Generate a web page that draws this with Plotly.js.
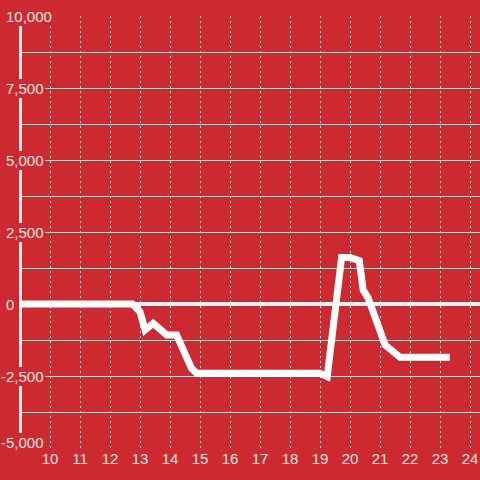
<!DOCTYPE html>
<html>
<head>
<meta charset="utf-8">
<script src="https://cdn.plot.ly/plotly-3.0.1.min.js"></script>
<style>html,body{margin:0;padding:0;background:#cc2a30;}#chart{width:480px;height:480px;}</style>
</head>
<body>
<div id="chart"></div>
<script>
// Data
const hours = [9, 12.75, 13.0, 13.17, 13.44, 13.89, 14.22, 14.72, 14.89, 19.0, 19.24, 19.72, 20.0, 20.31, 20.44, 20.61, 21.17, 21.67, 23.33];
const values = [0, 0, -270, -900, -670, -1076, -1076, -2234, -2407, -2407, -2523, 1615, 1615, 1503, 486, 197, -1424, -1852, -1852];
const yTickValues = [10000, 7500, 5000, 2500, 0, -2500, -5000];
const yTickLabels = ['10,000', '7,500', '5,000', '2,500', '0', '-2,500', '-5,000'];
const xTickValues = [10, 11, 12, 13, 14, 15, 16, 17, 18, 19, 20, 21, 22, 23, 24];

const BG = '#cc2a30';
const LABEL = '#f4e4e4';
const FONT = 'Liberation Sans, Arial, sans-serif';

const annotations = yTickValues.map((v, i) => ({
  xref: 'paper', yref: 'y',
  x: -20 / 460, y: v,
  xanchor: 'left', yanchor: 'middle',
  xshift: v < 0 ? 0 : 4.5,
  yshift: v === -5000 ? 6 : 0,
  text: yTickLabels[i],
  showarrow: false,
  bgcolor: BG,
  borderpad: 1,
  borderwidth: 0,
  font: {family: FONT, size: 15, color: LABEL}
}));

const trace = {
  x: hours, y: values,
  type: 'scatter', mode: 'lines',
  line: {color: '#ffffff', width: 7},
  hoverinfo: 'skip'
};

const layout = {
  width: 480, height: 480,
  paper_bgcolor: BG, plot_bgcolor: BG,
  margin: {l: 20, r: 0, t: 16, b: 32},
  showlegend: false,
  font: {family: FONT, size: 15, color: LABEL},
  xaxis: {
    range: [9, 24.3333],
    tickmode: 'array', tickvals: xTickValues,
    ticks: '', showline: false,
    showgrid: true, gridcolor: '#dddddd', gridwidth: 1, griddash: '2px,3px',
    zeroline: false,
    tickfont: {family: FONT, size: 15, color: LABEL},
    fixedrange: true
  },
  yaxis: {
    range: [-5000, 10000],
    dtick: 1250, tick0: 0,
    showticklabels: false, ticks: '',
    showgrid: true, gridcolor: '#cccccc', gridwidth: 1,
    zeroline: true, zerolinecolor: '#f4f4f4', zerolinewidth: 4,
    showline: false,
    fixedrange: true
  },
  shapes: [{
    type: 'line', xref: 'paper', yref: 'paper',
    x0: 0.5 / 460, x1: 0.5 / 460, y0: 0, y1: 1,
    line: {color: '#f0f0f0', width: 3},
    layer: 'above'
  }],
  annotations: annotations
};

Plotly.newPlot('chart', [trace], layout, {displayModeBar: false, staticPlot: true});
</script>
</body>
</html>
